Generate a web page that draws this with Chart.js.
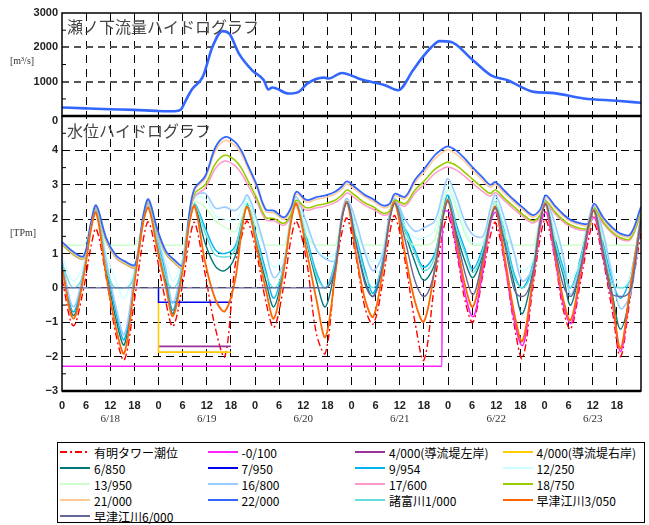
<!DOCTYPE html>
<html>
<head>
<meta charset="utf-8">
<script src="https://cdn.jsdelivr.net/npm/chart.js@4.4.1/dist/chart.umd.min.js"></script>
<style>
  body { margin: 0; background: #fff; width: 649px; height: 525px; position: relative; overflow: hidden; }
  #hydro { position: absolute; left: 0; top: 0; }
  #legend {
    position: absolute; left: 57px; top: 442px; width: 588px; height: 81px;
    box-sizing: border-box; border: 1px solid #000; padding: 1px 0 0 2px;
    display: grid; grid-template-columns: repeat(4, 147.5px); grid-auto-rows: 16px;
    font-family: 'Noto Sans CJK JP', sans-serif; font-size: 12px; color: #000;
  }
  #legend .item { display: flex; align-items: center; white-space: nowrap; }
  #legend svg { margin-right: 4px; flex: none; }
</style>
</head>
<body>
<canvas id="hydro" width="649" height="440"></canvas>
<div id="legend"></div>
<script>
// time axis: hours from 6/18 0:00
const dayLabels = ['6/18', '6/19', '6/20', '6/21', '6/22', '6/23'];

// 瀬ノ下 discharge [m3/s]
const qHours = [0, 6, 12, 18, 24, 28, 29.6, 30.4, 32.3, 35, 37.4, 39.9, 41.6, 44, 47.3, 50.2, 51.3, 52.3,
  56.4, 58.9, 61, 65.1, 66.3, 69.6, 74.5, 80.3, 83.6, 87.3, 89.4, 91.9, 93.9, 96.8, 101.8, 106.7, 110.8,
  117.4, 121.6, 129.8, 138, 144];
const qSenoshita = [252, 225, 200, 180, 150, 140, 190, 367, 773, 1140, 2010, 2473, 2400, 1820, 1333, 1043, 773, 832,
  657, 705, 947, 1120, 1092, 1256, 1063, 900, 754, 1333, 1671, 2010, 2183, 2154, 1671, 1188, 1043,
  705, 676, 512, 445, 386];

// common sampling times for the water level records (low, rise, peak, fall per tide)
const hours = [0, 2.8, 5.4, 7.2, 8.5, 11.0, 13.4,
  15.5, 18.2, 20.2, 21.5, 23.6, 25.8,
  27.6, 30.0, 31.7, 33.0, 35.6, 38.2,
  40.5, 43.0, 44.8, 46.1, 48.4, 50.7,
  52.7, 55.2, 57.0, 58.3, 60.8, 63.3,
  65.5, 67.9, 69.6, 70.9, 73.2, 75.4,
  77.4, 79.8, 81.5, 82.8, 85.3, 87.8,
  90.0, 92.7, 94.7, 96.0, 98.2, 100.3,
  102.2, 104.7, 106.5, 107.8, 110.1, 112.5,
  114.5, 117.1, 119.0, 120.3, 122.5, 124.6,
  126.5, 129.0, 131.0, 132.3, 134.6, 136.9,
  138.9, 141.3, 144];

// water levels [TPm]
const lvAriake = [0.25, -1.10, 0.00, 1.20, 1.72, 0.30, -1.35,
  -2.10, -0.20, 1.40, 1.92, 0.90, -0.40,
  -1.12, 0.10, 1.40, 1.90, 0.40, -1.20,
  -2.00, 0.60, 1.55, 1.94, 1.00, -0.40,
  -1.15, 0.10, 1.45, 1.94, 0.80, -1.35,
  -1.90, 0.40, 1.60, 2.03, 0.85, -0.60,
  -1.05, 0.20, 1.60, 2.10, 0.80, -1.00,
  -2.10, 0.15, 1.60, 2.10, 1.00, -0.40,
  -1.00, 0.40, 1.50, 1.90, 0.70, -1.10,
  -2.05, 0.00, 1.50, 2.00, 0.90, -0.60,
  -1.20, 0.20, 1.45, 1.90, 0.80, -0.70,
  -2.00, -0.30, 1.60];
const lv6850 = [0.65, -0.80, 0.40, 1.75, 2.25, 0.50, -0.90,
  -1.65, 0.40, 1.95, 2.35, 1.30, 0.20,
  -0.75, 0.60, 1.95, 2.40, 1.30, 0.62,
  0.50, 0.90, 1.85, 2.38, 1.30, 0.20,
  -0.55, 0.60, 2.00, 2.45, 1.35, 0.20,
  -0.55, 0.60, 2.05, 2.50, 1.30, 0.20,
  -0.25, 0.75, 2.05, 2.48, 1.60, 0.75,
  0.22, 0.70, 2.05, 2.55, 1.55, 0.75,
  0.30, 1.00, 1.95, 2.35, 1.40, 0.10,
  -0.75, 0.50, 2.00, 2.45, 1.30, 0.40,
  -0.50, 0.70, 1.85, 2.26, 1.10, -0.20,
  -1.20, -0.20, 2.00];
const lv9954 = [0.75, -0.70, 0.50, 1.80, 2.30, 0.70, -0.70,
  -1.50, 0.50, 2.00, 2.40, 1.50, 0.40,
  -0.65, 0.70, 2.05, 2.45, 1.75, 1.10,
  1.00, 1.20, 2.00, 2.45, 1.50, 0.50,
  -0.30, 0.70, 2.05, 2.50, 1.50, 0.45,
  0.00, 0.75, 2.10, 2.55, 1.50, 0.50,
  -0.15, 0.85, 2.10, 2.55, 1.80, 1.10,
  0.60, 1.00, 2.20, 2.70, 1.80, 1.10,
  0.55, 1.20, 2.05, 2.50, 1.60, 0.40,
  0.00, 0.70, 2.10, 2.55, 1.50, 0.60,
  0.00, 0.90, 1.95, 2.35, 1.30, 0.20,
  -0.30, 0.30, 2.10];
const lv12250 = [0.95, 0.20, 0.70, 1.85, 2.30, 1.00, 0.20,
  -0.30, 0.70, 2.00, 2.40, 1.60, 0.80,
  0.20, 0.90, 2.10, 2.60, 2.60, 2.10,
  2.00, 1.95, 2.30, 2.60, 1.90, 1.10,
  0.60, 0.90, 2.10, 2.55, 1.75, 1.15,
  0.90, 1.00, 2.10, 2.55, 1.75, 1.10,
  0.75, 1.10, 2.10, 2.50, 1.80, 1.45,
  1.45, 1.70, 2.60, 3.00, 2.40, 1.70,
  1.30, 1.35, 2.20, 2.60, 1.80, 1.00,
  0.50, 0.80, 2.05, 2.50, 1.70, 0.90,
  0.30, 0.80, 1.95, 2.35, 1.50, 0.50,
  0.00, 0.30, 2.00];
const lv13950 = [1.24, 1.24, 1.24, 1.80, 2.28, 1.24, 1.24,
  1.24, 1.24, 1.95, 2.38, 1.50, 1.24,
  1.24, 1.24, 2.05, 2.50, 2.35, 1.95,
  1.77, 1.63, 2.10, 2.50, 1.75, 1.24,
  1.24, 1.24, 2.05, 2.50, 1.55, 1.24,
  1.24, 1.24, 2.05, 2.50, 1.55, 1.24,
  1.24, 1.24, 2.05, 2.45, 1.55, 1.24,
  1.24, 1.40, 2.45, 2.85, 2.25, 1.55,
  1.24, 1.24, 2.10, 2.50, 1.55, 1.24,
  1.24, 1.24, 2.05, 2.45, 1.50, 1.24,
  1.24, 1.24, 1.95, 2.30, 1.40, 1.24,
  1.24, 1.24, 1.24];
const lv16800 = [0.80, -0.55, 0.55, 1.85, 2.30, 0.80, -0.55,
  -1.35, 0.55, 2.00, 2.40, 1.55, 0.55,
  -0.45, 0.80, 2.15, 2.65, 2.75, 2.32,
  2.35, 2.25, 2.45, 2.70, 2.00, 1.05,
  0.30, 0.75, 2.15, 2.65, 1.90, 1.10,
  0.85, 0.80, 2.15, 2.60, 1.90, 1.00,
  0.50, 1.00, 2.20, 2.60, 2.00, 1.65,
  1.75, 1.95, 2.75, 3.18, 2.60, 1.90,
  1.55, 1.50, 2.30, 2.70, 2.00, 1.00,
  0.20, 0.60, 2.10, 2.55, 1.90, 0.95,
  -0.20, 0.70, 2.00, 2.40, 1.60, 0.30,
  -0.60, -0.20, 2.00];
const lv17600 = [1.26, 0.96, 0.85, 1.80, 2.30, 1.36, 0.87,
  0.70, 0.60, 2.00, 2.47, 1.66, 0.99,
  0.76, 0.58, 2.08, 2.68, 2.90, 3.48,
  3.69, 3.56, 3.30, 3.02, 2.52, 1.98,
  1.95, 1.82, 2.08, 2.48, 2.26, 2.33,
  2.38, 2.48, 2.62, 2.76, 2.58, 2.40,
  2.29, 2.12, 2.18, 2.48, 2.38, 2.76,
  3.00, 3.33, 3.47, 3.52, 3.42, 3.23,
  3.04, 2.80, 2.67, 2.77, 2.53, 2.28,
  2.09, 1.89, 2.07, 2.46, 2.17, 1.93,
  1.78, 1.68, 1.70, 2.27, 1.87, 1.58,
  1.42, 1.39, 2.15];
const lv18750 = [1.28, 0.98, 0.87, 1.83, 2.33, 1.38, 0.89,
  0.72, 0.62, 2.03, 2.50, 1.68, 1.01,
  0.78, 0.60, 2.12, 2.75, 3.00, 3.62,
  3.86, 3.72, 3.45, 3.15, 2.62, 2.05,
  2.02, 1.88, 2.15, 2.55, 2.33, 2.40,
  2.45, 2.55, 2.70, 2.85, 2.66, 2.47,
  2.36, 2.18, 2.24, 2.55, 2.45, 2.85,
  3.10, 3.45, 3.60, 3.66, 3.55, 3.35,
  3.15, 2.90, 2.75, 2.85, 2.60, 2.35,
  2.15, 1.95, 2.13, 2.52, 2.23, 1.98,
  1.83, 1.73, 1.74, 2.32, 1.92, 1.62,
  1.46, 1.43, 2.20];
const lv21000 = [1.30, 1.01, 0.89, 1.86, 2.36, 1.41, 0.91,
  0.74, 0.64, 2.06, 2.54, 1.71, 1.04,
  0.81, 0.62, 2.16, 2.85, 3.18, 4.00,
  4.29, 4.15, 3.86, 3.52, 2.93, 2.22,
  2.19, 1.99, 2.29, 2.74, 2.50, 2.58,
  2.63, 2.73, 2.88, 3.02, 2.83, 2.64,
  2.52, 2.34, 2.39, 2.68, 2.59, 3.07,
  3.36, 3.76, 3.95, 4.02, 3.88, 3.66,
  3.42, 3.12, 2.93, 3.01, 2.75, 2.49,
  2.29, 2.06, 2.24, 2.63, 2.34, 2.09,
  1.93, 1.83, 1.83, 2.40, 2.00, 1.70,
  1.53, 1.50, 2.30];
const lv22000 = [1.34, 1.05, 0.93, 1.90, 2.40, 1.45, 0.95,
  0.78, 0.68, 2.10, 2.58, 1.75, 1.08,
  0.85, 0.66, 2.20, 2.90, 3.25, 4.10,
  4.39, 4.25, 3.95, 3.60, 3.00, 2.28,
  2.25, 2.05, 2.35, 2.80, 2.56, 2.64,
  2.69, 2.80, 2.95, 3.10, 2.90, 2.70,
  2.58, 2.40, 2.45, 2.74, 2.65, 3.15,
  3.45, 3.86, 4.05, 4.12, 3.98, 3.75,
  3.50, 3.20, 3.00, 3.08, 2.82, 2.55,
  2.35, 2.12, 2.30, 2.69, 2.40, 2.15,
  1.98, 1.88, 1.88, 2.45, 2.05, 1.75,
  1.58, 1.55, 2.36];
const lvMorodomi1000 = [0.70, 0.00, 0.45, 1.75, 2.25, 0.60, 0.00,
  0.00, 0.45, 1.95, 2.35, 1.40, 0.30,
  0.00, 0.65, 2.00, 2.40, 1.60, 0.95,
  0.90, 1.10, 1.95, 2.40, 1.40, 0.40,
  0.00, 0.65, 2.00, 2.45, 1.40, 0.35,
  0.00, 0.70, 2.05, 2.50, 1.40, 0.40,
  0.00, 0.80, 2.05, 2.50, 1.70, 1.00,
  0.50, 0.90, 2.15, 2.60, 1.70, 1.00,
  0.45, 1.10, 2.00, 2.40, 1.50, 0.30,
  0.00, 0.60, 2.05, 2.50, 1.40, 0.50,
  0.00, 0.80, 1.90, 2.30, 1.20, 0.10,
  0.00, 0.20, 2.05];
const lvHayatsue3050 = [0.57, -0.89, 0.35, 1.70, 2.19, 0.37, -1.15,
  -1.90, 0.30, 1.90, 2.33, 1.20, 0.05,
  -0.82, 0.50, 1.90, 2.38, 0.75, -0.35,
  -0.68, 0.20, 1.75, 2.36, 1.20, -0.05,
  -0.89, 0.55, 1.95, 2.45, 1.10, -0.35,
  -1.43, 0.35, 2.00, 2.50, 0.95, -0.35,
  -0.84, 0.55, 2.00, 2.48, 1.00, -0.40,
  -0.98, 0.55, 2.05, 2.55, 1.30, 0.05,
  -0.55, 0.75, 1.95, 2.35, 0.90, -0.75,
  -1.55, 0.30, 1.95, 2.45, 1.10, -0.30,
  -0.94, 0.50, 1.85, 2.26, 1.00, -0.35,
  -1.76, 0.00, 2.00];
const lvHayatsue6000 = [0, 0, 0, 0, 0, 0, 0,
  0, 0, 0, 0, 0, 0,
  0, 0, 0, 0, 0, 0,
  0, 0, 0, 0, 0, 0,
  0, 0, 0, 0, 0, 0,
  0, 0.55, 2.00, 2.48, 1.25, 0.10,
  -0.25, 0.70, 2.00, 2.46, 1.40, 0.20,
  -0.25, 0.50, 2.00, 2.52, 1.45, 0.40,
  -0.20, 0.90, 1.95, 2.33, 1.25, -0.05,
  -0.25, 0.40, 1.95, 2.43, 1.20, 0.10,
  -0.25, 0.60, 1.85, 2.25, 1.00, -0.20,
  -0.25, -0.10, 2.00];

// stations with their own record times
const m0100Hours = [0, 94.5, 94.6, 96.0, 98.2, 100.3, 102.2, 104.7, 106.5, 107.8, 110.1, 112.5, 114.5, 117.1,
  119.0, 120.3, 122.5, 124.6, 126.5, 129.0, 131.0, 132.3, 134.6, 136.9, 138.9, 141.3, 144];
const lvM0100 = [-2.28, -2.28, 2.24, 2.24, 1.10, -0.20, -0.84, 0.55, 1.85, 2.20, 0.75, -0.95, -1.68, 0.20,
  1.80, 2.21, 0.95, -0.45, -1.04, 0.40, 1.70, 2.06, 0.90, -0.45, -1.85, -0.10, 1.90];
const hours7950 = [24, 24, 42];
const lv7950 = [0, -0.42, -0.42];
const hours4000L = [24, 42];
const lv4000L = [-1.70, -1.70];
const hours4000R = [24, 24, 42];
const lv4000R = [-0.42, -1.87, -1.87];

const toPoints = (xs, ys) => xs.map((h, i) => ({ x: h, y: ys[i] }));

// curve: 'smooth' bezier, 'floor' monotone (records with a flat lower limit), 'step' straight segments
const levelSeries = [
  { label: '有明タワー潮位', t: hours, v: lvAriake, color: '#ff0000', dash: [7, 3, 2, 3], width: 1.4, curve: 'smooth' },
  { label: '-0/100', t: m0100Hours, v: lvM0100, color: '#ff22ff', width: 1.6, curve: 'floor' },
  { label: '4/000(導流堤左岸)', t: hours4000L, v: lv4000L, color: '#993399', width: 1.6, curve: 'step' },
  { label: '4/000(導流堤右岸)', t: hours4000R, v: lv4000R, color: '#ffcc00', width: 1.6, curve: 'step' },
  { label: '6/850', t: hours, v: lv6850, color: '#007878', width: 1.4, curve: 'smooth' },
  { label: '7/950', t: hours7950, v: lv7950, color: '#0000ee', width: 1.5, curve: 'step' },
  { label: '9/954', t: hours, v: lv9954, color: '#00b4f0', width: 1.4, curve: 'smooth' },
  { label: '12/250', t: hours, v: lv12250, color: '#ccffff', width: 1.4, curve: 'smooth' },
  { label: '13/950', t: hours, v: lv13950, color: '#ccffcc', width: 1.6, curve: 'floor' },
  { label: '16/800', t: hours, v: lv16800, color: '#99ccff', width: 1.6, curve: 'smooth' },
  { label: '17/600', t: hours, v: lv17600, color: '#ff99cc', width: 1.5, curve: 'smooth' },
  { label: '18/750', t: hours, v: lv18750, color: '#99cc00', width: 1.6, curve: 'smooth' },
  { label: '21/000', t: hours, v: lv21000, color: '#ffcc99', width: 1.6, curve: 'smooth' },
  { label: '22/000', t: hours, v: lv22000, color: '#3366ff', width: 1.8, curve: 'smooth' },
  { label: '諸富川1/000', t: hours, v: lvMorodomi1000, color: '#66dede', width: 1.4, curve: 'floor' },
  { label: '早津江川3/050', t: hours, v: lvHayatsue3050, color: '#ff6600', width: 1.8, curve: 'smooth' },
  { label: '早津江川6/000', t: hours, v: lvHayatsue6000, color: '#666699', width: 1.4, curve: 'floor' }
];

// later stations are painted over earlier ones
const datasets = levelSeries.map((s, i) => ({
  label: s.label,
  data: toPoints(s.t, s.v),
  yAxisID: 'yH',
  order: levelSeries.length - i,
  borderColor: s.color,
  borderWidth: s.width,
  borderDash: s.dash || [],
  cubicInterpolationMode: s.curve === 'floor' ? 'monotone' : 'default',
  tension: s.curve === 'smooth' ? 0.35 : 0
}));
datasets.push({
  label: '瀬ノ下流量',
  data: toPoints(qHours, qSenoshita),
  yAxisID: 'yQ',
  borderColor: '#3366ff',
  borderWidth: 2.6,
  cubicInterpolationMode: 'monotone'
});

const minus = v => (v < 0 ? '\u2212' + (-v) : String(v));

// frames, minor ticks, panel titles and day labels
const panelDecor = {
  id: 'panelDecor',
  afterDatasetsDraw(chart) {
    const { ctx, chartArea: a, scales } = chart;
    const { x, yQ, yH } = scales;
    ctx.save();
    ctx.strokeStyle = '#000';
    ctx.lineWidth = 1.5;
    ctx.strokeRect(a.left, yQ.top, a.right - a.left, yQ.bottom - yQ.top);
    ctx.strokeRect(a.left, yH.top, a.right - a.left, yH.bottom - yH.top);
    ctx.lineWidth = 2.5;
    ctx.beginPath();
    ctx.moveTo(a.left, yQ.bottom); ctx.lineTo(a.right, yQ.bottom);
    ctx.moveTo(a.left, yH.bottom); ctx.lineTo(a.right, yH.bottom);
    ctx.stroke();

    // short inner ticks between labelled values
    ctx.lineWidth = 1;
    ctx.beginPath();
    yQ.ticks.forEach(t => {
      if (t.value % 1000 !== 0) {
        const p = yQ.getPixelForValue(t.value);
        ctx.moveTo(a.left, p); ctx.lineTo(a.left + 4, p);
      }
    });
    yH.ticks.forEach(t => {
      if (!Number.isInteger(t.value)) {
        const p = yH.getPixelForValue(t.value);
        ctx.moveTo(a.left, p); ctx.lineTo(a.left + 4, p);
      }
    });
    ctx.stroke();

    ctx.fillStyle = '#444';
    ctx.font = '16px "Noto Sans CJK JP"';
    ctx.textBaseline = 'middle';
    ctx.fillText('瀬ノ下流量ハイドログラフ', a.left + 5, yQ.top + 14);
    ctx.fillText('水位ハイドログラフ', a.left + 5, yH.top + 15);

    // discharge zero sits just under the panel divider
    ctx.fillStyle = '#222';
    ctx.font = 'bold 11px "Liberation Sans"';
    ctx.textAlign = 'right';
    ctx.fillText('0', a.left - 4, yQ.bottom + 5);

    ctx.fillStyle = '#333';
    ctx.font = '10px "Liberation Serif"';
    ctx.textAlign = 'left';
    ctx.fillText('[m\u00b3/s]', 10, yQ.getPixelForValue(1600));
    ctx.fillText('[TPm]', 10, yH.getPixelForValue(1.6));

    ctx.font = '11px "Liberation Serif"';
    ctx.textAlign = 'center';
    dayLabels.forEach((d, i) => ctx.fillText(d, x.getPixelForValue(12 + 24 * i), 419));
    ctx.restore();
  }
};

new Chart(document.getElementById('hydro'), {
  type: 'line',
  data: { datasets },
  plugins: [panelDecor],
  options: {
    responsive: false,
    animation: false,
    devicePixelRatio: 1,
    layout: { padding: { left: 0, right: 4, top: 13, bottom: 0 } },
    elements: { point: { radius: 0 }, line: { fill: false } },
    plugins: { legend: { display: false }, tooltip: { enabled: false } },
    scales: {
      x: {
        type: 'linear', min: 0, max: 144,
        afterFit: s => { s.height = 49; },
        grid: {
          drawTicks: false,
          color: c => (c.tick && (c.tick.value === 0 || c.tick.value === 144) ? 'rgba(0,0,0,0)' : '#000'),
          lineWidth: 1
        },
        border: { display: false, dash: [8, 6] },
        ticks: {
          stepSize: 6, autoSkip: false, maxRotation: 0, padding: 8, color: '#222',
          font: { family: 'Liberation Sans', size: 11, weight: 'bold' },
          callback: v => (v === 144 ? '' : String(v % 24))
        }
      },
      yH: {
        type: 'linear', position: 'left', stack: 'panels', stackWeight: 8, weight: 0,
        min: -3, max: 5,
        afterFit: s => { s.width = 62; },
        grid: {
          drawTicks: false,
          color: c => (Number.isInteger(c.tick.value) && c.tick.value > -3 && c.tick.value < 5 ? '#000' : 'rgba(0,0,0,0)'),
          lineWidth: 1
        },
        border: { display: false, dash: [8, 5] },
        ticks: {
          stepSize: 0.5, autoSkip: false, padding: 4, color: '#222',
          font: { family: 'Liberation Sans', size: 11, weight: 'bold' },
          callback: v => (Number.isInteger(v) && v !== 5 ? minus(v) : '')
        }
      },
      yQ: {
        type: 'linear', position: 'left', stack: 'panels', stackWeight: 3, weight: 1,
        min: 0, max: 3000,
        afterFit: s => { s.width = 62; },
        grid: {
          drawTicks: false,
          color: c => (c.tick.value === 1000 || c.tick.value === 2000 ? '#555' : 'rgba(0,0,0,0)'),
          lineWidth: 2
        },
        border: { display: false, dash: [7, 5] },
        ticks: {
          stepSize: 500, autoSkip: false, padding: 4, color: '#222',
          font: { family: 'Liberation Sans', size: 11, weight: 'bold' },
          callback: v => (v % 1000 === 0 && v > 0 ? String(v) : '')
        }
      }
    }
  }
});

// legend boxes in four columns
const legendBox = document.getElementById('legend');
levelSeries.forEach(s => {
  const item = document.createElement('div');
  item.className = 'item';
  const dash = s.dash ? s.dash.join(' ') : 'none';
  item.innerHTML = '<svg width="30" height="8"><line x1="0" y1="4" x2="30" y2="4" stroke="' + s.color +
    '" stroke-width="2" stroke-dasharray="' + dash + '"/></svg><span></span>';
  item.querySelector('span').textContent = s.label;
  legendBox.appendChild(item);
});
</script>
</body>
</html>
